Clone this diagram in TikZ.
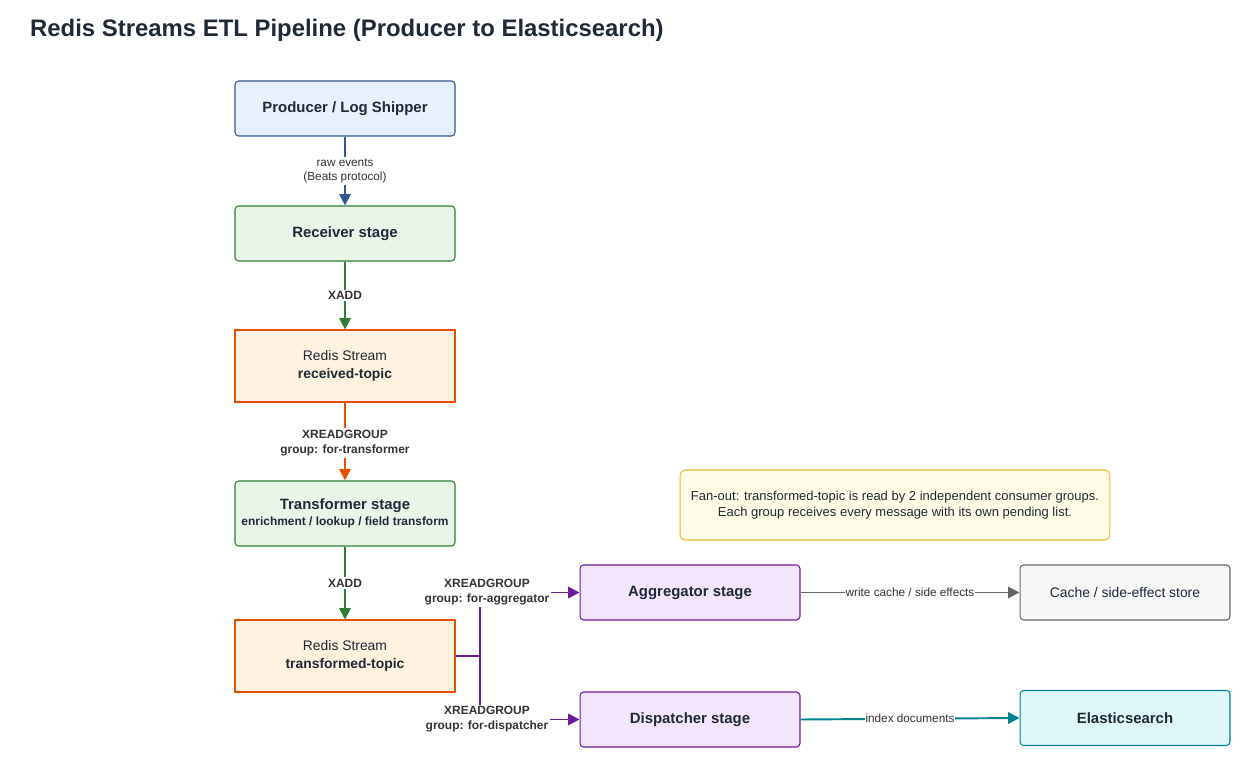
\documentclass[tikz,border=0pt]{standalone}
\usepackage{fontspec}
\setmainfont{Liberation Sans}
\usetikzlibrary{arrows.meta,positioning}
\definecolor{ink}{HTML}{1F2937}
\definecolor{lbl}{HTML}{333333}
\definecolor{blueline}{HTML}{2F5597}
\definecolor{bluefill}{HTML}{E8F0FC}
\definecolor{greenline}{HTML}{2E7D32}
\definecolor{greenfill}{HTML}{EAF5EA}
\definecolor{orangeline}{HTML}{E65100}
\definecolor{orangefill}{HTML}{FFF2E0}
\definecolor{purpleline}{HTML}{6A1B9A}
\definecolor{purplefill}{HTML}{F3E5FF}
\definecolor{grayline}{HTML}{666666}
\definecolor{grayfill}{HTML}{F7F7F8}
\definecolor{tealline}{HTML}{00838F}
\definecolor{tealfill}{HTML}{E0F7FA}
\definecolor{noteline}{HTML}{F5B335}
\definecolor{notefill}{HTML}{FFFDE8}
\tikzset{
  box/.style={draw, line width=0.6pt, minimum width=4.4cm, minimum height=1.1cm,
    inner sep=0pt, align=center, text=ink, font=\fontsize{8.5}{10}\selectfont\bfseries},
  stagebox/.style={box, rounded corners=2pt},
  streambox/.style={box, minimum height=1.44cm, draw=orangeline, fill=orangefill,
    font=\fontsize{7.9}{9.8}\selectfont},
  flow/.style={line width=1.1pt, -{Triangle[length=6.5pt,width=6.5pt]}},
  elabel/.style={fill=white, inner sep=1pt, align=center, text=lbl,
    font=\fontsize{6.8}{8.6}\selectfont\bfseries},
  slabel/.style={fill=white, inner sep=1pt, align=center, text=lbl,
    font=\fontsize{6.7}{8.2}\selectfont}
}
\begin{document}
\begin{tikzpicture}[x=0.02cm, y=-0.02cm]
\useasboundingbox (0,0) rectangle (1241,759);
\node[anchor=west, text=ink, font=\fontsize{13.6}{15}\selectfont\bfseries] (title) at (24,30)
  {Redis Streams ETL Pipeline (Producer to Elasticsearch)};
% main chain
\node[stagebox, draw=blueline, fill=bluefill] (producer) at (345,108.5) {Producer / Log Shipper};
\node[stagebox, draw=greenline, fill=greenfill] (receiver) at (345,233.5) {Receiver stage};
\node[streambox] (received) at (345,366) {Redis Stream\\\textbf{received-topic}};
\node[stagebox, draw=greenline, fill=greenfill, minimum height=1.3cm] (transformer) at (345,513.5)
  {Transformer stage\\[-1pt]{\fontsize{6.8}{8}\selectfont enrichment / lookup / field transform}};
\node[streambox] (transformed) at (345,656) {Redis Stream\\\textbf{transformed-topic}};
% consumers
\node[stagebox, draw=purpleline, fill=purplefill] (aggregator) at (690,592.5) {Aggregator stage};
\node[stagebox, draw=purpleline, fill=purplefill] (dispatcher) at (690,719.5) {Dispatcher stage};
\node[stagebox, draw=grayline, fill=grayfill, minimum width=4.2cm, font=\fontsize{7.9}{9.5}\selectfont] (cache) at (1125,592.5)
  {Cache / side-effect store};
\node[stagebox, draw=tealline, fill=tealfill, minimum width=4.2cm] (elastic) at (1125,718)
  {Elasticsearch};
\node[draw=noteline, fill=notefill, rounded corners=3pt, line width=0.6pt, minimum width=8.6cm,
  minimum height=1.4cm, align=center, text=ink, font=\fontsize{7.4}{9.4}\selectfont] (note) at (895,505)
  {Fan-out: transformed-topic is read by 2 independent consumer groups.\\
   Each group receives every message with its own pending list.};
% connectors
\coordinate (fork) at (480,656);
\draw[flow, blueline] (producer) -- node[slabel] {raw events\\(Beats protocol)} (receiver);
\draw[flow, greenline] (receiver) -- node[elabel] {XADD} (received);
\draw[flow, orangeline] (received) -- node[elabel, pos=0.52] {XREADGROUP\\group: for-transformer} (transformer);
\draw[flow, greenline] (transformer) -- node[elabel, pos=0.5] {XADD} (transformed);
\draw[flow, purpleline] (transformed.east) -- (fork) -- (fork |- aggregator.west)
  node[elabel, xshift=0.14cm] {XREADGROUP\\group: for-aggregator} -- (aggregator.west);
\draw[flow, purpleline] (transformed.east) -- (fork) -- (fork |- dispatcher.west)
  node[elabel, xshift=0.14cm] {XREADGROUP\\group: for-dispatcher} -- (dispatcher.west);
\draw[flow, grayline] (aggregator) -- node[slabel, inner sep=0.5pt] {write cache / side effects} (cache);
\draw[flow, tealline] (dispatcher.east) -- node[slabel, inner sep=0.5pt] {index documents} (elastic.west);
\end{tikzpicture}
\end{document}
